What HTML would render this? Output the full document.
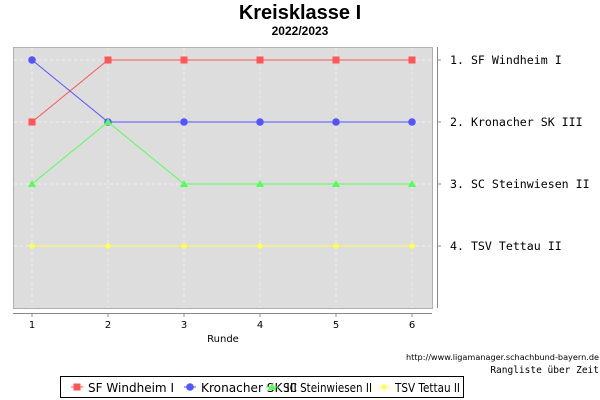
<!DOCTYPE html>
<html><head><meta charset="utf-8"><style>
body{margin:0;background:#fff;width:600px;height:400px;overflow:hidden}
svg{display:block}
</style></head><body>
<svg id="c" width="600" height="400" xmlns="http://www.w3.org/2000/svg">
<text x="300" y="19" text-anchor="middle" font-family="Liberation Sans, sans-serif" font-weight="bold" font-size="20">Kreisklasse I</text>
<text x="300" y="35" text-anchor="middle" font-family="Liberation Sans, sans-serif" font-weight="bold" font-size="12">2022/2023</text>
<rect x="13.5" y="47.5" width="419" height="261" fill="#dddddd" stroke="#b0b0b0"/>
<g id="grid"></g>
<g id="series"></g>
<line x1="13" y1="313.5" x2="432" y2="313.5" stroke="#888"/>
<line x1="437.5" y1="47" x2="437.5" y2="308" stroke="#888"/>
<g id="axes"></g>
<text x="223" y="342" text-anchor="middle" font-family="DejaVu Sans, sans-serif" font-size="10">Runde</text>
<text x="599" y="360" text-anchor="end" font-family="DejaVu Sans, sans-serif" font-size="8" textLength="193" lengthAdjust="spacingAndGlyphs">http://www.ligamanager.schachbund-bayern.de</text>
<text x="599" y="373" text-anchor="end" font-family="DejaVu Sans Mono, monospace" font-size="9.5">Rangliste über Zeit</text>
<rect x="60.5" y="376.5" width="403" height="21" fill="#fff" stroke="#000"/>
<g id="legend"></g>
</svg>
<script>
const rounds=[1,2,3,4,5,6];
const teams=["SF Windheim I","Kronacher SK III","SC Steinwiesen II","TSV Tettau II"];
const rankWindheim=[2,1,1,1,1,1];
const rankKronach=[1,2,2,2,2,2];
const rankSteinwiesen=[3,2,3,3,3,3];
const rankTettau=[4,4,4,4,4,4];
const finalRanks=[1,2,3,4];
const colors=["#ff5555","#5555ff","#55ff55","#ffff55"];
const shapes=["square","circle","triangle","diamond"];
const NS="http://www.w3.org/2000/svg";
const xs=r=>32+(r-1)*76;
const ys=k=>60+(k-1)*62;
function mk(t,a,p){const e=document.createElementNS(NS,t);for(const k in a)e.setAttribute(k,a[k]);p.appendChild(e);return e;}
const grid=document.getElementById('grid'),ser=document.getElementById('series'),ax=document.getElementById('axes'),lg=document.getElementById('legend');
rounds.forEach(r=>{
 const l=mk('line',{x1:xs(r),y1:48,x2:xs(r),y2:308,stroke:'#f4f4f4','stroke-dasharray':'3,3','stroke-width':0.7},grid);
 
 
 const t=mk('line',{x1:xs(r),y1:313,x2:xs(r),y2:317,stroke:'#888'},ax);
 
 
 const tx=mk('text',{x:xs(r),y:328,'text-anchor':'middle','font-family':'DejaVu Sans, sans-serif','font-size':10},ax);
 tx.textContent=r;
 
 
});
finalRanks.forEach((k,i)=>{
 const l=mk('line',{x1:14,y1:ys(k),x2:432,y2:ys(k),stroke:'#f4f4f4','stroke-dasharray':'3,3','stroke-width':0.7},grid);
 
 
 const t=mk('line',{x1:437,y1:ys(k),x2:441,y2:ys(k),stroke:'#888'},ax);
 
 
 const tx=mk('text',{x:450,y:ys(k)+4,'font-family':'DejaVu Sans Mono, monospace','font-size':11.6},ax);
 tx.textContent=k+". "+teams[i];
 
 
});
function marker(shape,x,y,c,p){
 if(shape==='square')return mk('rect',{x:x-3.5,y:y-3.5,width:7,height:7,fill:c},p);
 if(shape==='circle')return mk('circle',{cx:x,cy:y,r:3.8,fill:c},p);
 if(shape==='triangle')return mk('polygon',{points:`${x},${y-4} ${x+4},${y+3} ${x-4},${y+3}`,fill:c},p);
 return mk('polygon',{points:`${x},${y-3.5} ${x+3.5},${y} ${x},${y+3.5} ${x-3.5},${y}`,fill:c},p);
}
const data=[rankWindheim,rankKronach,rankSteinwiesen,rankTettau];
data.forEach((d,i)=>{
 const pl=mk('polyline',{points:d.map((k,j)=>xs(rounds[j])+","+ys(k)).join(" "),fill:'none',stroke:colors[i],'stroke-width':1},ser);
 
 
 d.forEach((k,j)=>{
  const m=marker(shapes[i],xs(rounds[j]),ys(k),colors[i],ser);
  
  
 });
});
const lx=[70,183,265,377];
const tl=[86,96,89,65];
teams.forEach((t,i)=>{
 const x=lx[i]+7;
 const l=mk('line',{x1:x-6,y1:387,x2:x+6,y2:387,stroke:colors[i]},lg);
 
 
 const m=marker(shapes[i],x,387,colors[i],lg);
 
 
 const tx=mk('text',{x:x+11,y:392,'font-family':'DejaVu Sans, sans-serif','font-size':12,textLength:tl[i],lengthAdjust:'spacingAndGlyphs'},lg);
 tx.textContent=t;
 
 
});
</script>
</body></html>
